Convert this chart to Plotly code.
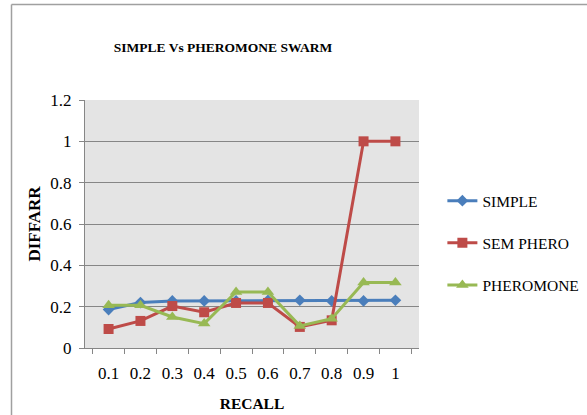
import plotly.graph_objects as go

recall = ["0.1", "0.2", "0.3", "0.4", "0.5", "0.6", "0.7", "0.8", "0.9", "1"]
simple = [0.186, 0.22, 0.228, 0.228, 0.228, 0.23, 0.231, 0.228, 0.228, 0.231]
sem_phero = [0.092, 0.131, 0.203, 0.173, 0.218, 0.218, 0.102, 0.134, 1.0, 1.0]
pheromone = [0.207, 0.207, 0.15, 0.118, 0.271, 0.271, 0.107, 0.142, 0.317, 0.317]

series = [
    ("SIMPLE", simple, "#4A7EBB", "diamond", 9),
    ("SEM PHERO", sem_phero, "#BE4B48", "square", 10),
    ("PHEROMONE", pheromone, "#98B954", "triangle-up", 11),
]

fig = go.Figure()
for name, vals, col, sym, sz in series:
    fig.add_trace(go.Scatter(
        x=recall, y=vals, name=name, mode="lines+markers",
        line=dict(color=col, width=3),
        marker=dict(symbol=sym, size=sz, color=col),
        legendgroup=name,
    ))

fig.update_layout(
    width=587, height=415,
    margin=dict(l=85, r=168, t=100, b=67, autoexpand=False),
    paper_bgcolor="white",
    plot_bgcolor="#E4E4E4",
    font=dict(family="Liberation Serif", size=14, color="#000000"),
    title=dict(text="<b>SIMPLE Vs PHEROMONE SWARM</b>", x=223/587, xanchor="center",
               y=1 - 47/415, yanchor="middle", font=dict(size=13.5)),
    showlegend=True,
    legend=dict(x=1.07, xanchor="left", y=0.423, yanchor="middle",
                tracegroupgap=19, font=dict(size=15.5), bgcolor="rgba(0,0,0,0)"),
    xaxis=dict(type="category", showline=True, linecolor="#868686", linewidth=1,
               ticks="outside", tickson="boundaries", ticklen=5, tickcolor="#868686",
               ticklabelstandoff=10,
               showgrid=False, title=dict(text="<b>RECALL</b>", standoff=15, font=dict(size=15.5))),
    yaxis=dict(range=[0, 1.2], dtick=0.2, showline=True, linecolor="#868686", linewidth=1,
               ticks="outside", ticklen=5, tickcolor="#868686", ticklabelstandoff=4,
               showgrid=True, gridcolor="#868686", gridwidth=1, zeroline=False,
               title=dict(text="<b>DIFFARR</b>", standoff=5, font=dict(size=17))),
)
fig.update_xaxes(tickfont=dict(size=17))
fig.update_yaxes(tickfont=dict(size=17))

fig.add_shape(type="line", xref="paper", yref="paper",
              x0=(11.5 - 85) / 334, x1=(11.5 - 85) / 334, y0=(348 - 4.5) / 248, y1=-0.4,
              line=dict(color="#A0A0A0", width=1.5))
fig.add_shape(type="line", xref="paper", yref="paper",
              x0=(11.5 - 85) / 334, x1=1.8, y0=(348 - 4.5) / 248, y1=(348 - 4.5) / 248,
              line=dict(color="#A0A0A0", width=1.5))

fig.write_html("out.html", config={"displayModeBar": False},
               post_script="document.body.style.margin='0';")
